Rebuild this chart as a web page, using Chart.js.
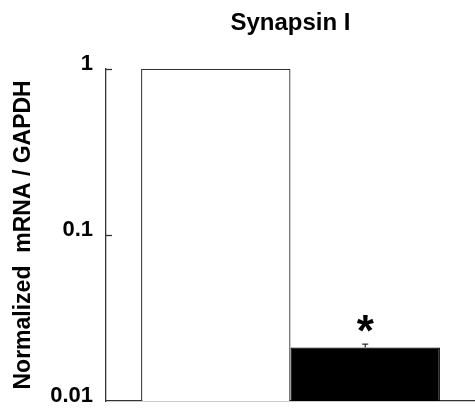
<!DOCTYPE html>
<html>
<head>
<meta charset="utf-8">
<script src="https://cdn.jsdelivr.net/npm/chart.js@4/dist/chart.umd.min.js"></script>
<style>
  html, body { margin: 0; padding: 0; background: #fff; }
  #wrap { width: 475px; height: 410px; }
</style>
</head>
<body>
<div id="wrap"><canvas id="barChart"></canvas></div>
<script>
// Synapsin I - normalized mRNA, log scale
const groups = ["Control", "Treated"];
const values = [1, 0.021];
const errors = [0, 0.001];
const yTicks = [0.01, 0.1, 1];

const fills = ["#ffffff", "#000000"];
const borders = ["#333333", "#000000"];
const FONT = '"Liberation Sans", Arial, sans-serif';

// inward ticks, error bar and the asterisk
const extras = {
  id: 'extras',
  afterDatasetsDraw(chart) {
    const ctx = chart.ctx;
    const y = chart.scales.y;
    ctx.save();
    ctx.strokeStyle = '#333';
    ctx.lineWidth = 1.3;
    yTicks.forEach(v => {
      if (v === y.min) return;
      const py = Math.round(y.getPixelForValue(v)) + 0.5;
      ctx.beginPath();
      ctx.moveTo(y.right, py);
      ctx.lineTo(y.right + 6, py);
      ctx.stroke();
    });
    groups.forEach((g, i) => {
      if (!errors[i]) return;
      const bar = chart.getDatasetMeta(i).data[0];
      const top = y.getPixelForValue(values[i] + errors[i]);
      ctx.strokeStyle = '#000';
      ctx.lineWidth = 1;
      ctx.beginPath();
      ctx.moveTo(bar.x, bar.y);
      ctx.lineTo(bar.x, top);
      ctx.moveTo(bar.x - 3, top);
      ctx.lineTo(bar.x + 3, top);
      ctx.stroke();
      ctx.fillStyle = '#000';
      ctx.font = 'bold 44px ' + FONT;
      ctx.textAlign = 'center';
      ctx.textBaseline = 'middle';
      ctx.fillText('*', bar.x, bar.y - 14);
    });
    ctx.restore();
  }
};

new Chart(document.getElementById('barChart'), {
  type: 'bar',
  data: {
    labels: [""],
    datasets: groups.map((g, i) => ({
      label: g,
      data: [values[i]],
      backgroundColor: fills[i],
      borderColor: borders[i],
      borderWidth: 1.3,
      borderSkipped: 'bottom'
    }))
  },
  options: {
    responsive: true,
    maintainAspectRatio: false,
    animation: false,
    categoryPercentage: 0.81,
    barPercentage: 1,
    layout: { padding: { left: 0, right: 0, top: 0, bottom: 9 } },
    plugins: {
      legend: { display: false },
      tooltip: { enabled: false },
      title: {
        display: true,
        text: 'Synapsin I',
        fullSize: false,
        color: '#000',
        font: { family: FONT, size: 24, weight: 'bold' },
        padding: { top: 9, bottom: 31 }
      }
    },
    scales: {
      x: {
        ticks: { display: false },
        grid: { display: false, drawTicks: false },
        border: { display: true, color: '#333', width: 1.3 },
        afterFit: s => { s.height = 0; }
      },
      y: {
        type: 'logarithmic',
        min: 0.01,
        max: 1,
        afterBuildTicks: s => { s.ticks = yTicks.map(v => ({ value: v })); },
        afterFit: s => { s.width = 106; s.paddingTop = 0; s.paddingBottom = 0; },
        ticks: {
          color: '#000',
          padding: 13,
          labelOffset: -5,
          font: { family: FONT, size: 22, weight: 'bold' },
          callback: v => String(v)
        },
        grid: { display: false, drawTicks: false },
        border: { display: true, color: '#333', width: 1.3 },
        title: {
          display: true,
          text: 'Normalized  mRNA / GAPDH',
          color: '#000',
          font: { family: FONT, size: 23, weight: 'bold' },
          padding: { top: 10, bottom: 0 }
        }
      }
    }
  },
  plugins: [extras]
});
</script>
</body>
</html>
